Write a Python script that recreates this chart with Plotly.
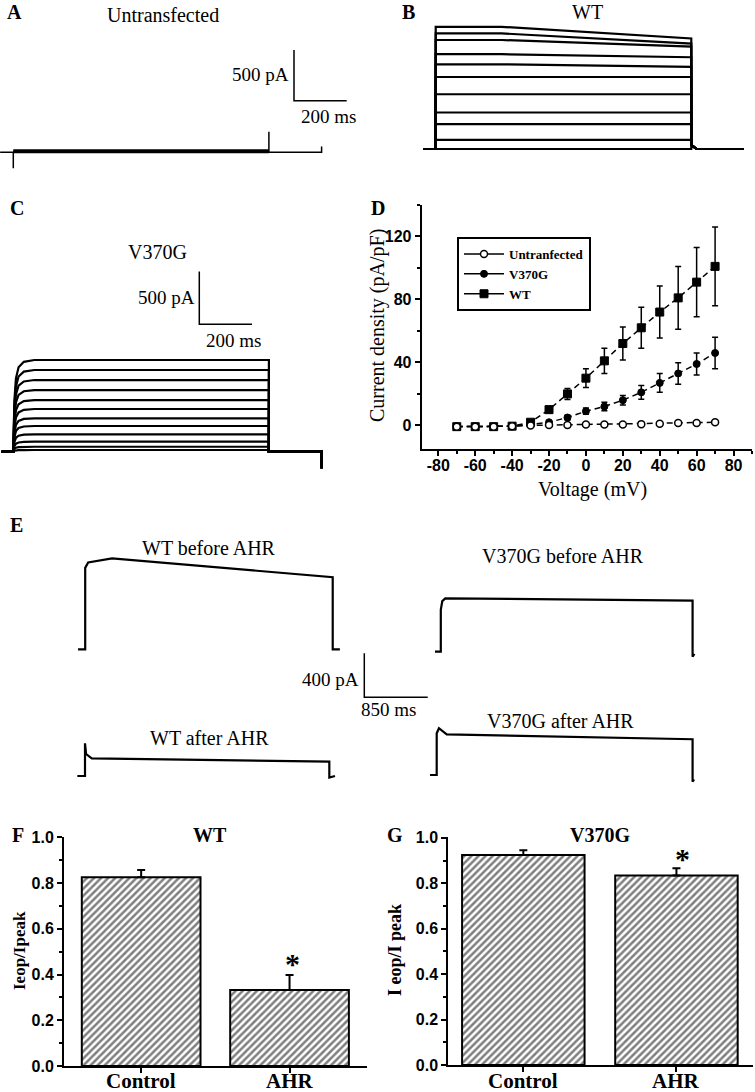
import plotly.graph_objects as go

W, H = 755, 1092
SERIF = "Liberation Serif"
SANS = "Liberation Sans"

# ---------------- data ----------------
# Panels A-C: pulse protocol (ms)
PRE_MS = {"A": 50, "B": 47, "C": 44}
STEP_MS = 970
POST_MS = 200

# A: untransfected cell (pA)
A_LEVELS = [0, 10, 20]
A_ON_TRANSIENT = -158
A_OFF_TRANSIENT = 203
A_END_TICK = 57

# B: WT current family (pA at pulse start / pulse end)
B_START = [0, 90, 245, 360, 540, 710, 835, 935, 1075, 1140, 1205]
B_END = [0, 90, 245, 360, 540, 710, 810, 905, 1010, 1040, 1090]
B_PEAK_MS = 250
B_TAIL = 40

# C: V370G current family (pA)
C_AMP = [16, 47, 95, 165, 244, 317, 405, 490, 585, 680, 775, 870]
C_ACT_MS = [0, 4, 10, 20, 40, 80]
C_ACT_FRAC = [0, 0.55, 0.8, 0.92, 0.98, 1.0]
C_END_TICK = -158

# scale bars
SCALE_ABC_PA, SCALE_ABC_MS = 500, 200
SCALE_E_PA, SCALE_E_MS = 400, 850

# E: long pulses before / after AHR (ms, pA)
E_WTB_T = [-96, 0, 0, 40, 360, 3318, 3318, 3414]
E_WTB_I = [0, 0, 740, 790, 827, 655, 0, 0]
E_VGB_T = [-78, 0, 0, 20, 60, 3375, 3375, 3400]
E_VGB_I = [0, 0, 380, 460, 485, 464, -45, -20]
E_WTA_T = [-103, 0, 0, 15, 90, 3275, 3275, 3351]
E_WTA_I = [0, 0, 297, 200, 161, 130, -15, 0]
E_VGA_T = [-90, 0, 0, 30, 134, 3430, 3430, 3450]
E_VGA_I = [0, 0, 380, 425, 370, 325, -61, -40]

# D: I-V relationship
VOLT = [-70, -60, -50, -40, -30, -20, -10, 0, 10, 20, 30, 40, 50, 60, 70]
WT_D = [-0.8, -0.8, -0.8, -0.5, 2, 10, 20, 30, 41, 52, 62, 72, 81, 91, 101]
WT_ERR = [0.3, 0.3, 0.3, 0.5, 1, 2, 3.5, 6, 8, 10.5, 13, 16.5, 20, 22, 25]
VG_D = [-0.8, -0.8, -0.8, -0.5, 0.5, 2, 5, 9, 12, 16, 21, 27, 33, 39, 46]
VG_ERR = [0.3, 0.3, 0.3, 0.3, 0.5, 1, 1.5, 2, 2.7, 3, 4.4, 6, 6.8, 7, 10]
UN_D = [-0.8, -0.8, -0.8, -0.5, 0, 0.2, 0.3, 0.5, 0.5, 0.6, 0.8, 1, 1.5, 1.5, 2]
UN_ERR = [0.3] * 15
D_XTICKS = [-80, -60, -40, -20, 0, 20, 40, 60, 80]
D_YTICKS = [0, 40, 80, 120]

# F / G: Ieop/Ipeak
CATS = ["Control", "AHR"]
F_VALS = [0.825, 0.332]
F_ERR = [0.032, 0.066]
G_VALS = [0.924, 0.834]
G_ERR = [0.021, 0.032]
FG_YTICKS = [0.0, 0.2, 0.4, 0.6, 0.8, 1.0]

# ---------------- figure ----------------
fig = go.Figure()
axes = {}
panels = {}


def names(n):
    s = "" if n == 1 else str(n)
    return "x" + s, "y" + s, "xaxis" + s, "yaxis" + s


def trace_panel(n, box, origin, sx, sy):
    x0, y0, x1, y1 = box
    ox, oy = origin
    xr, yr, xk, yk = names(n)
    axes[xk] = dict(domain=[x0 / W, x1 / W], range=[(x0 - ox) / sx, (x1 - ox) / sx],
                    visible=False, anchor=yr, fixedrange=True)
    axes[yk] = dict(domain=[1 - y1 / H, 1 - y0 / H], range=[(oy - y1) / sy, (oy - y0) / sy],
                    visible=False, anchor=xr, fixedrange=True)
    panels[n] = (origin, sx, sy)


def to_data(n, px, py):
    (ox, oy), sx, sy = panels[n]
    return (px - ox) / sx, (oy - py) / sy


def line(n, t, i, width=1.8):
    xr, yr, _, _ = names(n)
    fig.add_trace(go.Scatter(x=t, y=i, xaxis=xr, yaxis=yr, mode="lines",
                             line=dict(color="black", width=width),
                             showlegend=False, hoverinfo="skip"))


def scale_bar(n, corner_px, pa, ms):
    tc, ic = to_data(n, *corner_px)
    line(n, [tc, tc, tc + ms], [ic + pa, ic, ic], width=1.5)


def bold_ticks(vals, fmt):
    return dict(tickmode="array", tickvals=vals,
                ticktext=["<b>%s</b>" % (fmt % v) for v in vals])


# Panel A
trace_panel(1, (0, 40, 375, 175), (13.3, 152.3), 0.2635, 0.1014)
pre = PRE_MS["A"]
line(1, [-pre, 0, 0, 0, STEP_MS, STEP_MS, STEP_MS, STEP_MS + POST_MS, STEP_MS + POST_MS],
     [0, 0, A_ON_TRANSIENT, 0, 0, A_OFF_TRANSIENT, 0, 0, A_END_TICK], width=1.5)
for lv in A_LEVELS:
    line(1, [0, STEP_MS], [lv, lv], width=2)
scale_bar(1, (294, 100.7), SCALE_ABC_PA, SCALE_ABC_MS)

# Panel B
trace_panel(2, (415, 15, 755, 165), (435.7, 149), 0.2635, 0.1014)
pre = PRE_MS["B"]
for s, e in zip(B_START, B_END):
    line(2, [-pre, 0, 0, B_PEAK_MS, STEP_MS, STEP_MS, STEP_MS + 20, STEP_MS + POST_MS],
         [0, 0, s, s, e, B_TAIL, 0, 0], width=2.2)

# Panel C
trace_panel(3, (0, 265, 330, 475), (13.3, 451.7), 0.2635, 0.1054)
pre = PRE_MS["C"]
for a in C_AMP:
    t = [-pre] + C_ACT_MS + [STEP_MS, STEP_MS, STEP_MS + POST_MS, STEP_MS + POST_MS]
    i = [0] + [a * f for f in C_ACT_FRAC] + [a, 0, 0, C_END_TICK]
    line(3, t, i, width=2.2)
scale_bar(3, (199.3, 324.3), SCALE_ABC_PA, SCALE_ABC_MS)

# Panel E
SX_E, SY_E = 0.0746, 0.11
trace_panel(5, (60, 540, 440, 705), (85.2, 649.3), SX_E, SY_E)
trace_panel(6, (420, 580, 720, 665), (440.8, 651.7), SX_E, SY_E)
trace_panel(7, (60, 735, 360, 790), (85, 776), SX_E, SY_E)
trace_panel(8, (420, 720, 720, 795), (436.7, 775), SX_E, SY_E)
line(5, E_WTB_T, E_WTB_I, width=2.2)
line(6, E_VGB_T, E_VGB_I, width=2.2)
line(7, E_WTA_T, E_WTA_I, width=2.2)
line(8, E_VGA_T, E_VGA_I, width=2.2)
scale_bar(5, (364.3, 697.3), SCALE_E_PA, SCALE_E_MS)

# Panel D
DASH = "6px,4px"
series = [
    ("Untranfected", UN_D, UN_ERR, dict(symbol="circle", size=7, color="white",
                                         line=dict(color="black", width=1.5))),
    ("V370G", VG_D, VG_ERR, dict(symbol="circle", size=7, color="black",
                                 line=dict(color="black", width=1))),
    ("WT", WT_D, WT_ERR, dict(symbol="square", size=8, color="black",
                              line=dict(color="black", width=1))),
]
for name, vals, err, mk in reversed(series):
    fig.add_trace(go.Scatter(x=VOLT, y=vals, xaxis="x4", yaxis="y4", mode="lines+markers",
                             line=dict(color="black", width=1.5, dash=DASH), marker=mk,
                             error_y=dict(type="data", array=err, color="black",
                                          thickness=1.5, width=3),
                             showlegend=False, hoverinfo="skip"))
for name, vals, err, mk in series:
    fig.add_trace(go.Scatter(x=[None], y=[None], xaxis="x4", yaxis="y4", mode="lines+markers",
                             name=name, line=dict(color="black", width=1.5), marker=mk))

tick_sans17 = dict(family=SANS, size=16, color="black")
axes["xaxis4"] = dict(domain=[421.7 / W, 752 / W], range=[-89, 90], anchor="y4",
                      showline=True, linecolor="black", linewidth=2, mirror=False,
                      ticks="outside", ticklen=5, tickwidth=2, tickcolor="black",
                      tickfont=tick_sans17, ticklabelstandoff=-4,
                      minor=dict(dtick=10, ticks="outside", ticklen=3, tickwidth=1.5,
                                 tickcolor="black"),
                      showgrid=False, zeroline=False, fixedrange=True, automargin=False,
                      **bold_ticks(D_XTICKS, "%d"))
axes["yaxis4"] = dict(domain=[1 - 449 / H, 1 - 205 / H], range=[-15, 140], anchor="x4",
                      showline=True, linecolor="black", linewidth=2,
                      ticks="outside", ticklen=5, tickwidth=2, tickcolor="black",
                      tickfont=tick_sans17,
                      minor=dict(dtick=20, tick0=0, ticks="outside", ticklen=3, tickwidth=1.5,
                                 tickcolor="black"),
                      showgrid=False, zeroline=False, fixedrange=True, automargin=False,
                      **bold_ticks(D_YTICKS, "%d"))

# Panels F and G
def bar_panel(n, vals, err, xdom, ydom, xrange, yrange):
    xr, yr, xk, yk = names(n)
    fig.add_trace(go.Bar(x=CATS, y=vals, xaxis=xr, yaxis=yr, width=0.8,
                         marker=dict(color="white", line=dict(color="black", width=2),
                                     pattern=dict(shape="/", fgcolor="black", bgcolor="white",
                                                  size=5, solidity=0.5)),
                         error_y=dict(type="data", array=err, arrayminus=[0] * len(err),
                                      symmetric=False, color="black", thickness=2, width=4),
                         showlegend=False, hoverinfo="skip"))
    axes[xk] = dict(domain=xdom, range=xrange, anchor=yr, type="category",
                    showline=True, linecolor="black", linewidth=2,
                    ticks="outside", ticklen=5, tickwidth=2, tickcolor="black",
                    showticklabels=False,
                    showgrid=False, zeroline=False, fixedrange=True, automargin=False)
    axes[yk] = dict(domain=ydom, range=yrange, anchor=xr,
                    showline=True, linecolor="black", linewidth=2,
                    ticks="outside", ticklen=5, tickwidth=2, tickcolor="black",
                    tickfont=dict(family=SANS, size=16, color="black"),
                    minor=dict(dtick=0.1, tick0=0, ticks="outside", ticklen=3, tickwidth=1.5,
                               tickcolor="black"),
                    showgrid=False, zeroline=False, fixedrange=True, automargin=False,
                    **bold_ticks(FG_YTICKS, "%.1f"))


bar_panel(9, F_VALS, F_ERR, [64 / W, 366.7 / W], [1 - 1066 / H, 1 - 837.3 / H],
          [-0.52, 1.52], [0, 1.0])
bar_panel(10, G_VALS, G_ERR, [448.3 / W, 753 / W], [1 - 1065 / H, 1 - 836.7 / H],
          [-0.49, 1.5], [0, 1.005])

# ---------------- text ----------------
anns = []


def ann(text, px, py, size=20, bold=False, xanchor="center", angle=0, family=SERIF):
    anns.append(dict(text=("<b>%s</b>" % text) if bold else text, x=px / W, y=1 - py / H,
                     xref="paper", yref="paper", xanchor=xanchor, yanchor="middle",
                     showarrow=False, textangle=angle,
                     font=dict(family=family, size=size, color="black")))


ann("A", 14, 12, 20, True)
ann("Untransfected", 163, 15, 20)
ann("500 pA", 291, 75, 19, xanchor="right")
ann("200 ms", 328, 117, 19)
ann("B", 409, 12, 20, True)
ann("WT", 587, 12, 20)
ann("C", 17, 208, 20, True)
ann("V370G", 157, 252, 20)
ann("500 pA", 197, 298, 19, xanchor="right")
ann("200 ms", 233, 340, 19)
ann("D", 378, 208, 20, True)
ann("Current density (pA/pF)", 377, 326, 20, angle=-90)
ann("Voltage (mV)", 592, 490, 20)
ann("E", 16, 525, 20, True)
ann("WT before AHR", 209, 548, 20)
ann("V370G before AHR", 563, 556, 20)
ann("400 pA", 361, 679, 19, xanchor="right")
ann("850 ms", 388, 709, 19)
ann("V370G after AHR", 560, 721, 20)
ann("WT after AHR", 209, 738, 20)
ann("F", 18, 835, 20, True)
ann("WT", 210, 835, 20, True)
ann("Ieop/Ipeak", 19, 951, 17, True, angle=-90)
ann("*", 292, 963, 30, True)
ann("G", 395, 835, 20, True)
ann("V370G", 600, 835, 20, True)
ann("I eop/I peak", 395, 950, 18, True, angle=-90)
ann("*", 682, 858, 30, True)

# category labels under the bars (aligned to the bar axes)
for n, py in ((9, 1081), (10, 1081)):
    xr = names(n)[0]
    for c in CATS:
        anns.append(dict(text="<b>%s</b>" % c, x=c, y=1 - py / H, xref=xr, yref="paper",
                         xanchor="center", yanchor="middle", showarrow=False,
                         font=dict(family=SERIF, size=21, color="black")))

fig.update_layout(
    width=W, height=H, margin=dict(l=0, r=0, t=0, b=0),
    paper_bgcolor="white", plot_bgcolor="rgba(0,0,0,0)",
    showlegend=True, annotations=anns, bargap=0.2,
    legend=dict(x=457 / W, y=1 - 237 / H, xanchor="left", yanchor="top",
                bordercolor="black", borderwidth=2, bgcolor="white",
                font=dict(family=SERIF, size=13, color="black", weight="bold"),
                itemwidth=40, tracegroupgap=0),
    **axes,
)

fig.write_html("out.html", config={"displayModeBar": False},
               post_script="document.body.style.margin='0px';")
